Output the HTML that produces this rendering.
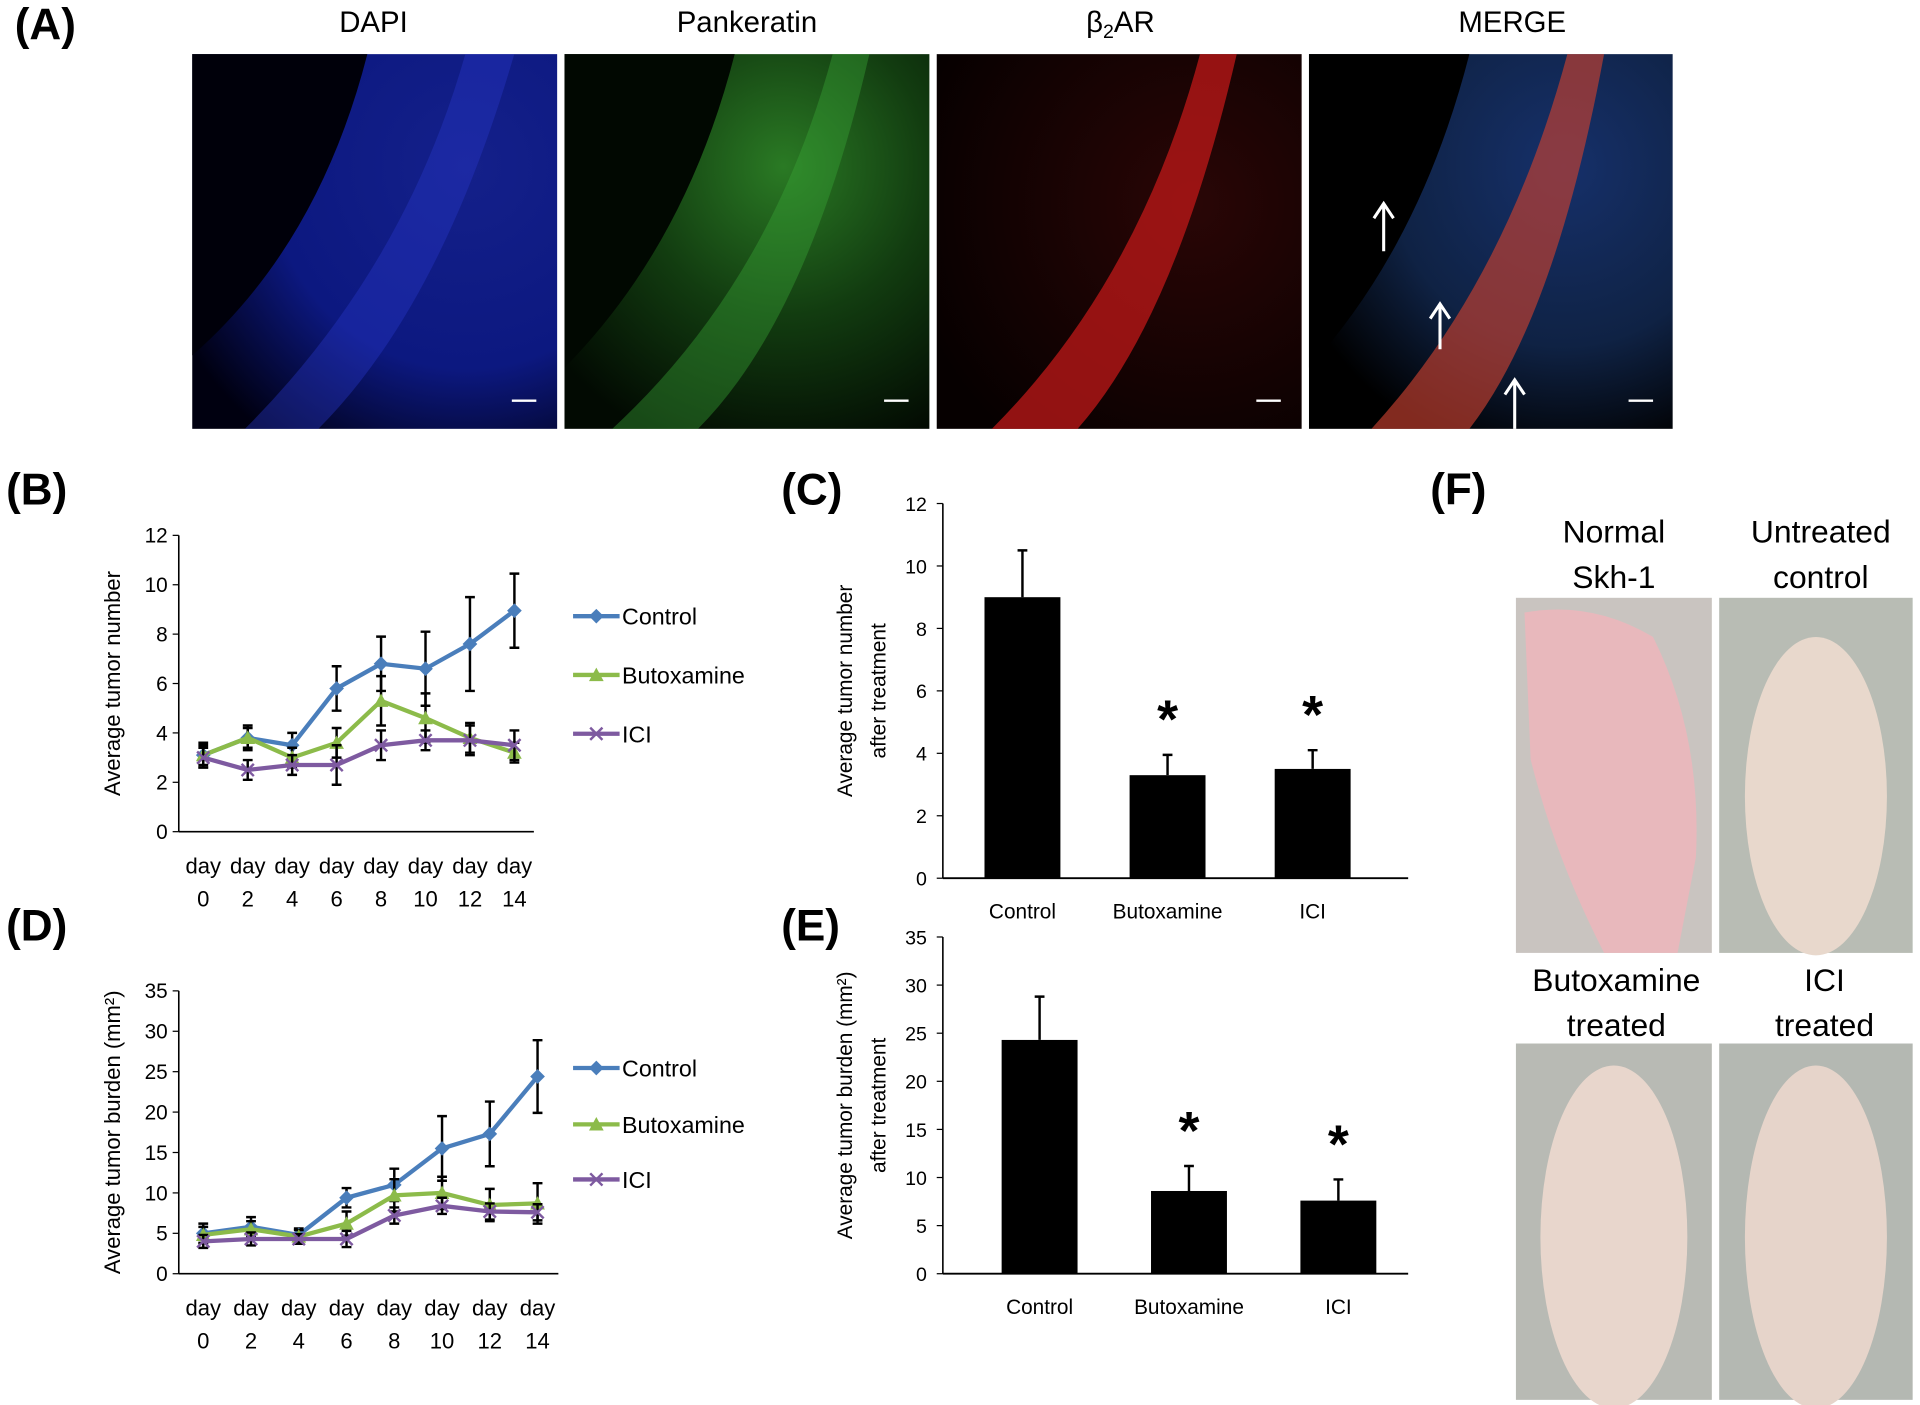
<!DOCTYPE html>
<html><head><meta charset="utf-8"><style>
html,body{margin:0;padding:0;background:#fff;}
svg{display:block;font-family:"Liberation Sans",sans-serif;}
</style></head><body>
<svg id="fig" width="1920" height="1405" viewBox="0 0 1568 1147" xmlns="http://www.w3.org/2000/svg">
<defs>
<radialGradient id="gBlue" cx="0.75" cy="0.3" r="0.9"><stop offset="0" stop-color="#14208a"/><stop offset="0.6" stop-color="#0c1880"/><stop offset="1" stop-color="#000010"/></radialGradient>
<radialGradient id="gGreen" cx="0.6" cy="0.3" r="0.8"><stop offset="0" stop-color="#2a7a24"/><stop offset="0.5" stop-color="#123c10"/><stop offset="1" stop-color="#020a02"/></radialGradient>
<radialGradient id="gRed" cx="0.7" cy="0.4" r="0.8"><stop offset="0" stop-color="#2a0606"/><stop offset="1" stop-color="#060000"/></radialGradient>
<radialGradient id="gMerge" cx="0.7" cy="0.3" r="0.8"><stop offset="0" stop-color="#16306a"/><stop offset="0.6" stop-color="#0f2244"/><stop offset="1" stop-color="#000"/></radialGradient>
</defs>
<g font-size="36" font-weight="bold">
<text x="12" y="32">(A)</text>
<text x="5" y="412">(B)</text>
<text x="638" y="412">(C)</text>
<text x="1168" y="412">(F)</text>
<text x="5" y="768">(D)</text>
<text x="638" y="768">(E)</text>
</g>
<g font-size="24" text-anchor="middle">
<text x="305" y="26">DAPI</text>
<text x="610" y="26">Pankeratin</text>
<text x="915" y="26">β<tspan font-size="16" dy="5">2</tspan><tspan dy="-5">AR</tspan></text>
<text x="1235" y="26">MERGE</text>
</g>
<g>
<rect x="157" y="44" width="298" height="306" fill="url(#gBlue)"/>
<path d="M157 290 Q260 200 300 44 L157 44Z" fill="#00000a"/>
<path d="M200 350 Q330 220 380 44 L420 44 Q360 250 260 350Z" fill="#2838c8" opacity="0.4"/>
<rect x="461" y="44" width="298" height="306" fill="url(#gGreen)"/>
<path d="M461 300 Q560 200 600 44 L461 44Z" fill="#010801"/>
<path d="M500 350 Q630 230 680 44 L710 44 Q660 260 570 350Z" fill="#3aa838" opacity="0.4"/>
<rect x="765" y="44" width="298" height="306" fill="url(#gRed)"/>
<path d="M810 350 Q930 230 980 44 L1010 44 Q960 260 880 350Z" fill="#c01818" opacity="0.75"/>
<rect x="1069" y="44" width="297" height="306" fill="url(#gMerge)"/>
<path d="M1069 300 Q1160 200 1200 44 L1069 44Z" fill="#000"/>
<path d="M1120 350 Q1230 230 1280 44 L1310 44 Q1270 260 1200 350Z" fill="#c84030" opacity="0.65"/>
<g stroke="#fff" stroke-width="2.5" fill="none">
<path d="M1130 205 V168 M1122 178 L1130 166 L1138 178"/>
<path d="M1176 285 V250 M1168 260 L1176 248 L1184 260"/>
<path d="M1237 350 V312 M1229 322 L1237 310 L1245 322"/>
</g>
<g stroke="#fff" stroke-width="2">
<line x1="418" y1="327" x2="438" y2="327"/><line x1="722" y1="327" x2="742" y2="327"/><line x1="1026" y1="327" x2="1046" y2="327"/><line x1="1330" y1="327" x2="1350" y2="327"/>
</g>
</g>
<g font-size="26" text-anchor="middle">
<text x="1318" y="443">Normal</text><text x="1318" y="480">Skh-1</text>
<text x="1487" y="443">Untreated</text><text x="1487" y="480">control</text>
<text x="1320" y="809">Butoxamine</text><text x="1320" y="846">treated</text>
<text x="1490" y="809">ICI</text><text x="1490" y="846">treated</text>
</g>
<g>
<rect x="1238" y="488" width="160" height="290" fill="#c9c4c0"/>
<path d="M1245 500 Q1300 490 1350 520 Q1390 600 1385 700 L1370 778 L1310 778 Q1270 700 1250 620 Z" fill="#e8b8bc"/>
<rect x="1404" y="488" width="158" height="290" fill="#b8bcb4"/>
<ellipse cx="1483" cy="650" rx="58" ry="130" fill="#e8d8cc"/>
<rect x="1238" y="852" width="160" height="291" fill="#b8bab4"/>
<ellipse cx="1318" cy="1010" rx="60" ry="140" fill="#e8d6cc"/>
<rect x="1404" y="852" width="158" height="291" fill="#b4b8b2"/>
<ellipse cx="1483" cy="1010" rx="58" ry="140" fill="#e6d4ca"/>
</g>
<g id="charts"></g>
</svg>
<script>
const days = ["0","2","4","6","8","10","12","14"];
const bCtrl = [3.1,3.8,3.5,5.8,6.8,6.6,7.6,8.95];
const bCtrlErr = [0.5,0.5,0.5,0.9,1.1,1.5,1.9,1.5];
const bButo = [3.1,3.8,3.0,3.6,5.3,4.6,3.8,3.2];
const bButoErr = [0.4,0.4,0.4,0.6,1.0,1.0,0.6,0.4];
const bIci = [3.0,2.5,2.7,2.7,3.5,3.7,3.7,3.5];
const bIciErr = [0.4,0.4,0.4,0.8,0.6,0.4,0.6,0.6];
const dCtrl = [5.0,5.8,4.8,9.4,11.0,15.5,17.3,24.4];
const dCtrlErr = [1.2,1.2,0.8,1.2,2.0,4.0,4.0,4.5];
const dButo = [4.8,5.5,4.6,6.2,9.7,10.0,8.5,8.7];
const dButoErr = [1.0,1.0,0.8,1.5,2.0,2.0,2.0,2.5];
const dIci = [4.0,4.3,4.3,4.3,7.2,8.4,7.7,7.6];
const dIciErr = [0.8,0.8,0.6,1.0,1.0,1.0,1.0,1.0];
const barCats = ["Control","Butoxamine","ICI"];
const cVals = [9.0,3.3,3.5];
const cErr = [1.5,0.65,0.6];
const eVals = [24.3,8.6,7.6];
const eErr = [4.5,2.6,2.2];
const cSig = [false,true,true];

const NS="http://www.w3.org/2000/svg";
const root=document.getElementById('charts');
function mk(tag,attrs,parent){const e=document.createElementNS(NS,tag);for(const k in attrs)e.setAttribute(k,attrs[k]);(parent||root).appendChild(e);return e;}
function txt(s,attrs,parent){const e=mk('text',attrs,parent);e.textContent=s;return e;}

function lineChart(o){
  const g=mk('g',{});
  
  
  const y=v=>o.y0-(v/o.ymax)*(o.y0-o.y1);
  const x=i=>o.x0+i*o.dx;
  mk('line',{x1:o.ax,y1:o.y1,x2:o.ax,y2:o.y0,stroke:'#000','stroke-width':1.3},g);
  mk('line',{x1:o.ax,y1:o.y0,x2:o.ax+o.axlen,y2:o.y0,stroke:'#000','stroke-width':1.3},g);
  for(let v=0;v<=o.ymax;v+=o.step){
    mk('line',{x1:o.ax-5,y1:y(v),x2:o.ax,y2:y(v),stroke:'#000'},g);
    const t=txt(String(v),{x:o.ax-9,y:y(v)+6,'font-size':17,'text-anchor':'end'},g);
    
    
  }
  days.forEach((d,i)=>{
    const t1=txt('day',{x:x(i),y:o.y0+34,'font-size':18,'text-anchor':'middle'},g);
    
    
    txt(d,{x:x(i),y:o.y0+61,'font-size':18,'text-anchor':'middle'},g);
  });
  const yt=txt(o.ylabel,{x:0,y:0,'font-size':18,'text-anchor':'middle',transform:`translate(${o.ax-48},${(o.y0+o.y1)/2}) rotate(-90)`},g);
  
  
  const series=[[o.c,o.ce,'#4a7ebb','Control','d'],[o.b,o.be,'#8cbb4a','Butoxamine','t'],[o.i,o.ie,'#7e5aa0','ICI','x']];
  series.forEach((s,si)=>{
    const sg=mk('g',{},g);
    
    
    s[0].forEach((v,i)=>{
      const eb=mk('path',{d:`M${x(i)} ${y(v-s[1][i])}V${y(v+s[1][i])}M${x(i)-4} ${y(v-s[1][i])}h8M${x(i)-4} ${y(v+s[1][i])}h8`,stroke:'#000','stroke-width':2,fill:'none'},sg);
      
      
    });
    mk('polyline',{points:s[0].map((v,i)=>x(i)+','+y(v)).join(' '),fill:'none',stroke:s[2],'stroke-width':3.5},sg);
    s[0].forEach((v,i)=>marker(sg,s[4],x(i),y(v),s[2]));
    const ly=o.leg[si];
    const le=mk('g',{},g);
    
    
    mk('line',{x1:468,y1:ly,x2:506,y2:ly,stroke:s[2],'stroke-width':3.5},le);
    marker(le,s[4],487,ly,s[2]);
    txt(s[3],{x:508,y:ly+7,'font-size':19},le);
  });
}
function marker(p,t,cx,cy,c){
  let m;
  if(t==='d')m=mk('path',{d:`M${cx} ${cy-6}L${cx+6} ${cy}L${cx} ${cy+6}L${cx-6} ${cy}Z`,fill:c},p);
  else if(t==='t')m=mk('path',{d:`M${cx} ${cy-6}L${cx+6} ${cy+5}L${cx-6} ${cy+5}Z`,fill:c},p);
  else m=mk('path',{d:`M${cx-5} ${cy-5}L${cx+5} ${cy+5}M${cx+5} ${cy-5}L${cx-5} ${cy+5}`,stroke:c,'stroke-width':2},p);
  
  
}
function barChart(o){
  const g=mk('g',{});
  
  
  const y=v=>o.y0-(v/o.ymax)*(o.y0-o.y1);
  mk('line',{x1:o.ax,y1:o.y1,x2:o.ax,y2:o.y0,stroke:'#000','stroke-width':1.3},g);
  mk('line',{x1:o.ax,y1:o.y0,x2:o.ax+380,y2:o.y0,stroke:'#000','stroke-width':1.5},g);
  for(let v=0;v<=o.ymax;v+=o.step){
    mk('line',{x1:o.ax-5,y1:y(v),x2:o.ax,y2:y(v),stroke:'#000'},g);
    const t=txt(String(v),{x:o.ax-13,y:y(v)+6,'font-size':16,'text-anchor':'end'},g);
    
    
  }
  o.vals.forEach((v,i)=>{
    const cx=o.cx0+i*o.dcx;
    const b=mk('rect',{x:cx-31,y:y(v),width:62,height:o.y0-y(v),fill:'#000'},g);
    
    
    const e=mk('path',{d:`M${cx} ${y(v)}V${y(v+o.err[i])}M${cx-4} ${y(v+o.err[i])}h8`,stroke:'#000','stroke-width':2},g);
    
    
    if(cSig[i]){const s=txt('*',{x:cx,y:y(v+o.err[i])-14,'font-size':44,'font-weight':'bold','text-anchor':'middle'},g);
      
      }
    const l=txt(barCats[i],{x:cx,y:o.y0+33,'font-size':17,'text-anchor':'middle'},g);
    
    
  });
  const yt=txt('',{x:0,y:0,'font-size':17,'text-anchor':'middle',transform:`translate(${o.ax-74},${(o.y0+o.y1)/2}) rotate(-90)`},g);
  
  
  const t1=document.createElementNS(NS,'tspan');t1.setAttribute('x',0);t1.textContent=o.l1;yt.appendChild(t1);
  const t2=document.createElementNS(NS,'tspan');t2.setAttribute('x',0);t2.setAttribute('dy',27);t2.textContent='after treatment';yt.appendChild(t2);
}
lineChart({name:'chart-b-tumor-number',ax:146,y0:679,y1:437,ymax:12,step:2,x0:166,dx:36.3,axlen:290,ylabel:'Average tumor number',
  c:bCtrl,ce:bCtrlErr,b:bButo,be:bButoErr,i:bIci,ie:bIciErr,leg:[503,551,599]});
lineChart({name:'chart-d-tumor-burden',ax:146,y0:1040,y1:809,ymax:35,step:5,x0:166,dx:39,axlen:310,ylabel:'Average tumor burden (mm²)',
  c:dCtrl,ce:dCtrlErr,b:dButo,be:dButoErr,i:dIci,ie:dIciErr,leg:[872,918,963]});
barChart({name:'chart-c-tumor-number-bars',ax:770,y0:717,y1:411,ymax:12,step:2,cx0:835,dcx:118.5,vals:cVals,err:cErr,l1:'Average tumor number'});
barChart({name:'chart-e-tumor-burden-bars',ax:770,y0:1040,y1:765,ymax:35,step:5,cx0:849,dcx:122,vals:eVals,err:eErr,l1:'Average tumor burden (mm²)'});
</script>
</body></html>
